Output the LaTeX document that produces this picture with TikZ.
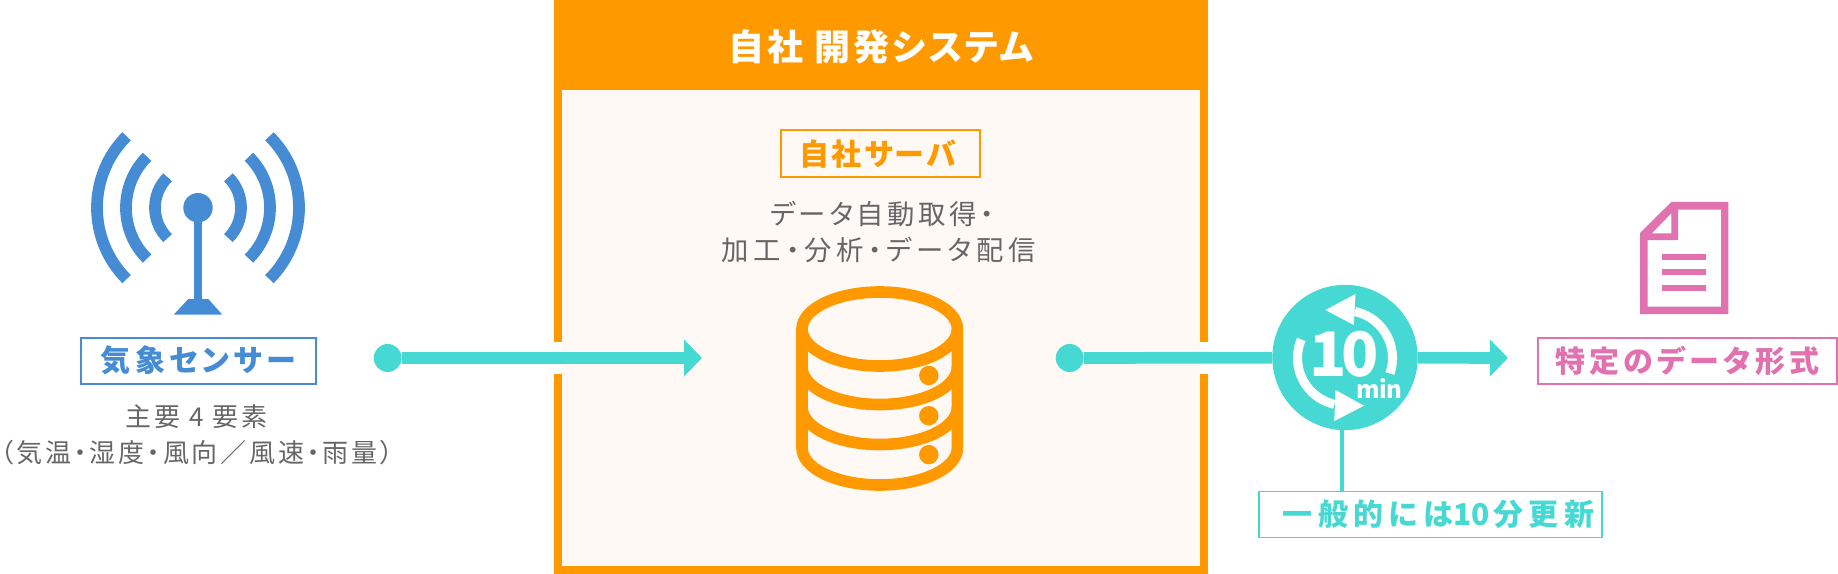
\documentclass[tikz,border=0pt]{standalone}
\usepackage{fontspec}
\usetikzlibrary{arrows.meta}
\setmainfont{Noto Sans CJK JP}
\newcommand{\jptext}[2]{\addfontfeature{RawFeature=+palt,LetterSpace=#2}#1}
\definecolor{sensorblue}{HTML}{458CD5}
\definecolor{sysorange}{HTML}{FF9900}
\definecolor{flowteal}{HTML}{46D8D3}
\definecolor{docpink}{HTML}{E272AF}
\definecolor{bodygray}{HTML}{666666}
\definecolor{syscream}{HTML}{FFF9F5}
\tikzset{
  tagbox/.style={draw=#1,text=#1,line width=1.4pt,inner sep=0pt,anchor=north west,align=center,font=\fontsize{22.5}{26}\bfseries\selectfont},
  bodytext/.style={text=bodygray,inner sep=0pt,font=\fontsize{19.5}{26}\selectfont},
  flowline/.style={draw=flowteal,line width=8.8pt},
  flowarrow/.style={flowline,-{Triangle[length=13.5pt,width=27pt]}},
  flowdot/.style={circle,fill=flowteal,inner sep=0pt,minimum size=21pt},
  wave/.style={draw=sensorblue,line width=8.8pt}
}
\begin{document}
\begin{tikzpicture}[x=0.75pt,y=-0.75pt]
\useasboundingbox (0,0) rectangle (1838,574);

% frame
\fill[sysorange] (554,0) rectangle (1207.5,574);
\fill[syscream] (562,90) rectangle (1200,566);
\fill[white] (554,342) rectangle (562,374);
\fill[white] (1200,342) rectangle (1207.5,374);
\node[text=white,inner sep=0pt,font=\fontsize{27}{30}\bfseries\selectfont] (systitle) at (881,47) {\jptext{自社 開発システム}{8}};

% antenna
\fill[sensorblue] (194,207) rectangle (202,300);
\fill[sensorblue] (188.3,299) -- (208.3,299) -- (222.3,314.7) -- (173.7,314.7) -- cycle;
\fill[sensorblue] (198,207.7) circle (14.7);
\foreach \r in {43,72,101} {
  \draw[wave] (198,207.7) ++(45:\r) arc[start angle=45,end angle=-45,radius=\r];
  \draw[wave] (198,207.7) ++(135:\r) arc[start angle=135,end angle=225,radius=\r];
}
\node[tagbox=sensorblue,minimum width=176pt,minimum height=34.5pt] (sensortag) at (80,336.8) {\jptext{気象センサー}{14}};
\node[bodytext] (sensorsub) at (196.7,416.7) {\jptext{主要 4 要素}{11}};
\node[bodytext] (sensorlist) at (197,452.7) {\jptext{（気温・湿度・風向／風速・雨量）}{10.5}};

% server
\node[tagbox=sysorange,minimum width=149pt,minimum height=35pt] (servertag) at (780.2,129.5) {\hspace{-4pt}\jptext{自社サーバ}{8}};
\node[bodytext,font=\fontsize{20.5}{26}\selectfont] (serversub) at (882,214.5) {\jptext{データ自動取得・}{13}};
\node[bodytext,font=\fontsize{20.5}{26}\selectfont] (serverlist) at (879,250) {\jptext{加工・分析・データ配信}{17}};

% database
\draw[draw=sysorange,line width=8.7pt] (879.7,329) ellipse [x radius=77.7,y radius=37];
\draw[draw=sysorange,line width=8.7pt] (802,329) -- (802,448) arc[start angle=180,end angle=0,x radius=77.7,y radius=37] -- (957.4,329);
\foreach \y in {367,407} {
  \draw[draw=sysorange,line width=8.7pt] (802,\y) arc[start angle=180,end angle=0,x radius=77.7,y radius=37.5];
}
\foreach \y in {375.5,415.7,454.6} {
  \fill[sysorange] (928.8,\y) circle (9.7);
}

% flows
\node[flowdot] (sensordot) at (387.7,358) {};
\coordinate (servertip) at (702,358);
\draw[flowarrow] (sensordot) -- (servertip);
\node[flowdot] (serverdot) at (1069.7,358) {};
\node[circle,fill=flowteal,inner sep=0pt,minimum size=109pt] (clockdot) at (1345,357.5) {};
\coordinate (doctip) at (1508,358);
\draw[flowline] (serverdot) -- (clockdot);
\draw[flowarrow] (clockdot) -- (doctip);

% clock
\draw[white,line width=6.8pt] (1345,358) ++(-78:47.5) arc[start angle=-78,end angle=19,radius=47.5];
\draw[white,line width=6.8pt] (1345,358) ++(-157:47.5) arc[start angle=-157,end angle=-257,radius=47.5];
\fill[white] (1325.4,310) -- (1355.5,294) -- (1353.8,325) -- cycle;
\fill[white] (1364,405.7) -- (1335.5,390) -- (1334.3,421) -- cycle;
\node[text=white,inner sep=0pt,font=\fontsize{46}{46}\bfseries\selectfont] (clockten) at (1344,354) {\addfontfeature{LetterSpace=-8}10};
\node[text=white,inner sep=0pt,font=\fontsize{18}{18}\bfseries\selectfont] (clockmin) at (1379,389) {\addfontfeature{LetterSpace=-3}min};

% update note
\node[tagbox=flowteal,minimum width=257.5pt,minimum height=34.5pt] (updatetag) at (1258,490.5) {\hspace*{12pt}\jptext{一般的には}{18}{\addfontfeature{LetterSpace=0}10}\hspace{3pt}\jptext{分更新}{18}};
\coordinate (clockfoot) at (1342,428);
\draw[draw=flowteal,line width=3pt] (clockfoot) -- (clockfoot |- updatetag.north);

% document
\fill[docpink,even odd rule] (1671.3,202) -- (1728.3,202) -- (1728.3,314) -- (1640,314) -- (1640,233) -- cycle
  (1678,209.5) -- (1721,209.5) -- (1721,306.7) -- (1647.5,306.7) -- (1647.5,240) -- (1678,240) -- cycle
  (1671.3,213.3) -- (1671.3,233.3) -- (1651.8,233.3) -- cycle;
\foreach \y in {254,269.3,284.7} {
  \fill[docpink] (1662,\y) rectangle (1706.3,\y+6);
}
\node[tagbox=docpink,minimum width=224.5pt,minimum height=34.5pt] (doctag) at (1536.8,337) {\jptext{特定のデータ形式}{14}};
\end{tikzpicture}
\end{document}
